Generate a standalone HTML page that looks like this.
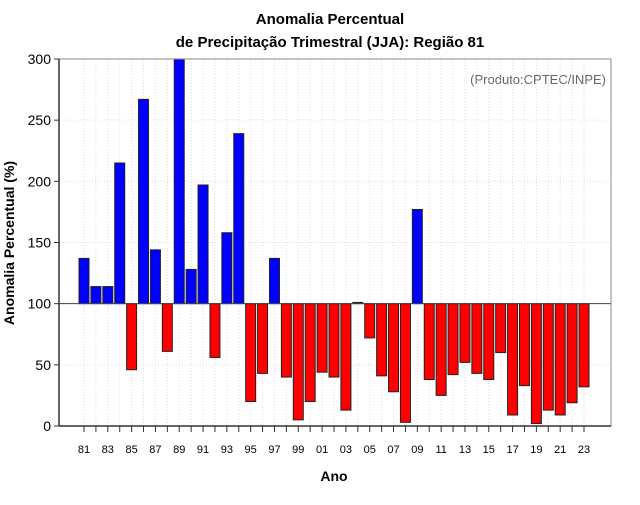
<!DOCTYPE html>
<html><head><meta charset="utf-8"><style>
html,body{margin:0;padding:0;background:#fff;}
svg text{font-family:"Liberation Sans",sans-serif;}
</style></head><body>
<svg id="chart" width="640" height="500" viewBox="0 0 640 500">
<text x="330" y="24" text-anchor="middle" font-size="15" font-weight="bold">Anomalia Percentual</text>
<text x="330" y="47" text-anchor="middle" font-size="15" font-weight="bold">de Precipitação Trimestral (JJA): Região 81</text>
<text x="606" y="84" text-anchor="end" font-size="13" fill="#666">(Produto:CPTEC/INPE)</text>
<text x="334" y="481" text-anchor="middle" font-size="14" font-weight="bold">Ano</text>
<text transform="translate(14,243) rotate(-90)" text-anchor="middle" font-size="14" font-weight="bold">Anomalia Percentual (%)</text>
<g id="grid"></g><g id="bars"></g><g id="axes"></g>
</svg>
<script>
const years = [81,82,83,84,85,86,87,88,89,90,91,92,93,94,95,96,97,98,99,0,1,2,3,4,5,6,7,8,9,10,11,12,13,14,15,16,17,18,19,20,21,22,23];
const values = [137,114,114,215,46,267,144,61,300,128,197,56,158,239,20,43,137,40,5,20,44,40,13,101,72,41,28,3,177,38,25,42,52,43,38,60,9,33,2,13,9,19,32];
const yTicks = [0,50,100,150,200,250,300];
const baseline = 100;
const NS='http://www.w3.org/2000/svg';
const L=59,R=611,T=59,B=426;
const x0=84, step=11.905, bw=10;
function xs(i){return x0+i*step;}
function ys(v){return B-(v/300)*(B-T);}
function mk(tag,attrs,parent){const e=document.createElementNS(NS,tag);for(const k in attrs)e.setAttribute(k,attrs[k]);parent.appendChild(e);return e;}
const grid=document.getElementById('grid'),bars=document.getElementById('bars'),axes=document.getElementById('axes');
yTicks.forEach(v=>{const l=mk('line',{x1:L,x2:R,y1:ys(v),y2:ys(v),stroke:'#ddd','stroke-dasharray':'1,2'},grid);

});
years.forEach((y,i)=>{const l=mk('line',{x1:xs(i),x2:xs(i),y1:T,y2:B,stroke:'#ddd','stroke-dasharray':'1,2'},grid);

});
values.forEach((v,i)=>{const top=Math.min(ys(v),ys(baseline)),h=Math.abs(ys(v)-ys(baseline));
const r=mk('rect',{x:xs(i)-bw/2,y:top,width:bw,height:Math.max(h,1),fill:v>=baseline?'#0000ff':'#ff0000',stroke:'#222','stroke-width':1},bars);

});
const bl=mk('line',{x1:L,x2:R,y1:ys(baseline),y2:ys(baseline),stroke:'#444','stroke-width':1},axes);


const fr=mk('rect',{x:L,y:T,width:R-L,height:B-T,fill:'none',stroke:'#888','stroke-width':1},axes);


mk('line',{x1:L,x2:L,y1:T,y2:B,stroke:'#333','stroke-width':1.5},axes);
mk('line',{x1:L,x2:R,y1:B,y2:B,stroke:'#333','stroke-width':1.5},axes);
yTicks.forEach(v=>{mk('line',{x1:L-5,x2:L,y1:ys(v),y2:ys(v),stroke:'#333'},axes);
const t=mk('text',{x:L-8,y:ys(v)+5,'text-anchor':'end','font-size':14},axes);t.textContent=v;

});
years.forEach((y,i)=>{mk('line',{x1:xs(i),x2:xs(i),y1:B,y2:B+6,stroke:'#333'},axes);
if(i%2===0){const t=mk('text',{x:xs(i),y:B+27,'text-anchor':'middle','font-size':11},axes);t.textContent=String(y).padStart(2,'0');

}});
</script>
</body></html>
